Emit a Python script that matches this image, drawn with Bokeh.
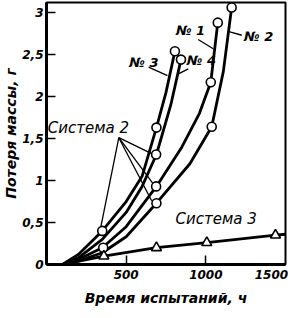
from bokeh.plotting import figure
from bokeh.models import Range1d, Label, FixedTicker
from bokeh.embed import file_html
from bokeh.resources import INLINE

# ---- data ----
# System 2, curves No1..No4 (time h, mass loss g)
c3_x = [100, 200, 350, 500, 600, 690, 750, 806]
c3_y = [0.0, 0.12, 0.40, 0.75, 1.05, 1.63, 2.05, 2.54]
c4_x = [100, 200, 350, 500, 600, 690, 780, 844]
c4_y = [0.0, 0.08, 0.30, 0.62, 0.93, 1.31, 1.90, 2.44]
c1_x = [100, 200, 350, 500, 690, 850, 960, 1031, 1075]
c1_y = [0.0, 0.06, 0.20, 0.45, 0.93, 1.40, 1.80, 2.17, 2.88]
c2_x = [100, 200, 350, 500, 690, 900, 1037, 1110, 1162]
c2_y = [0.0, 0.04, 0.14, 0.33, 0.73, 1.20, 1.64, 2.30, 3.06]
# measured points (circles)
pts2_x = [350, 356, 690, 688, 688, 690, 806, 844, 1031, 1075, 1037, 1162]
pts2_y = [0.40, 0.20, 1.63, 1.31, 0.93, 0.73, 2.54, 2.44, 2.17, 2.88, 1.64, 3.06]
# System 3
s3_x = [100, 360, 690, 1006, 1437, 1500]
s3_y = [0.0, 0.10, 0.20, 0.26, 0.35, 0.36]
s3_pts_x = [360, 690, 1006, 1437]
s3_pts_y = [0.10, 0.20, 0.26, 0.35]

y_ticks = [0, 0.5, 1, 1.5, 2, 2.5, 3]
y_tick_labels = ["0", "0,5", "1", "1,5", "2", "2,5", "3"]
x_ticks = [500, 1000, 1500]
x_tick_labels = ["500", "1000", "1500"]

curve_labels = ["№ 1", "№ 2", "№ 3", "№ 4"]
curve_label_x = [812, 1240, 520, 880]
curve_label_y = [2.79, 2.71, 2.40, 2.43]
lead_x0 = [952, 1151, 641, 890]
lead_y0 = [2.68, 2.77, 2.35, 2.33]
lead_x1 = [1046, 1226, 759, 828]
lead_y1 = [2.57, 2.73, 2.25, 2.27]

sys2_label = "Система 2"
sys2_pos = (8, 1.63)
sys2_lead_from = (454, 1.51)
sys2_lead_to_x = [336, 660, 678, 660]
sys2_lead_to_y = [0.40, 1.32, 0.94, 0.76]
sys3_label = "Система 3"
sys3_pos = (810, 0.54)

FONT = "DejaVu Sans"
LAST_LABEL_SHIFT = 88  # the last x tick label sits left of its tick (right-aligned look)

p = figure(width=288, height=318, output_backend="svg", toolbar_location=None,
           x_range=Range1d(0, 1500), y_range=Range1d(0, 3.12),
           min_border_left=44, min_border_right=3, min_border_top=2, min_border_bottom=54)
p.grid.visible = False
p.background_fill_color = "white"
p.border_fill_color = "white"
p.outline_line_color = "black"
p.outline_line_width = 2

for ax in (p.xaxis[0], p.yaxis[0]):
    ax.axis_line_width = 3
    ax.axis_line_color = "black"
    ax.major_tick_in = 9
    ax.major_tick_out = 0
    ax.major_tick_line_width = 1.5
    ax.minor_tick_line_color = None
    ax.major_label_text_font = FONT
    ax.major_label_text_font_style = "bold italic"
    ax.major_label_text_font_size = "12px"
    ax.major_label_text_color = "black"
    ax.axis_label_text_font = FONT
    ax.axis_label_text_font_style = "bold italic"
    ax.axis_label_text_font_size = "14px"
    ax.axis_label_text_color = "black"

p.yaxis.ticker = FixedTicker(ticks=y_ticks)
p.yaxis.major_label_overrides = {t: l for t, l in zip(y_ticks, y_tick_labels)}
p.yaxis.major_label_standoff = 3
p.yaxis.axis_label = "Потеря массы, г"
p.yaxis.axis_label_standoff = 0

# x axis: tick marks drawn as minor ticks, labels at major positions
label_pos = list(x_ticks[:-1]) + [x_ticks[-1] - LAST_LABEL_SHIFT]
inner_ticks = [t for t in x_ticks if t < x_ticks[-1]]
xa = p.xaxis[0]
xa.ticker = FixedTicker(ticks=label_pos, minor_ticks=inner_ticks)
xa.major_label_overrides = {pos: l for pos, l in zip(label_pos, x_tick_labels)}
xa.major_tick_in = 0
xa.major_tick_out = 0
xa.major_tick_line_color = None
xa.minor_tick_line_color = "black"
xa.minor_tick_in = 9
xa.minor_tick_out = 0
xa.minor_tick_line_width = 1.5
xa.major_label_standoff = 5
xa.axis_label = "Время испытаний, ч"
xa.axis_label_standoff = 8

LW = 2.8
for xs, ys in ((c1_x, c1_y), (c2_x, c2_y), (c3_x, c3_y), (c4_x, c4_y), (s3_x, s3_y)):
    p.line(xs, ys, line_color="black", line_width=LW)

# leader lines
p.segment(lead_x0, lead_y0, lead_x1, lead_y1, line_color="black", line_width=1.3)
p.segment([sys2_lead_from[0]] * 4, [sys2_lead_from[1]] * 4, sys2_lead_to_x, sys2_lead_to_y,
          line_color="black", line_width=1.3)

p.scatter(pts2_x, pts2_y, marker="circle", size=9, fill_color="white",
          line_color="black", line_width=1.6)
p.scatter(s3_pts_x, s3_pts_y, marker="triangle", size=10, fill_color="white",
          line_color="black", line_width=1.6)

for t, x, y in zip(curve_labels, curve_label_x, curve_label_y):
    p.add_layout(Label(x=x, y=y, text=t, text_align="left", text_baseline="middle",
                       text_color="black", text_font=FONT, text_font_style="bold italic",
                       text_font_size="13px"))
p.add_layout(Label(x=sys2_pos[0], y=sys2_pos[1], text=sys2_label, text_align="left",
                   text_baseline="middle", text_color="black", text_font=FONT,
                   text_font_style="italic", text_font_size="15px"))
p.add_layout(Label(x=sys3_pos[0], y=sys3_pos[1], text=sys3_label, text_align="left",
                   text_baseline="middle", text_color="black", text_font=FONT,
                   text_font_style="italic", text_font_size="15px"))

open("out.html", "w").write(file_html(p, INLINE))
